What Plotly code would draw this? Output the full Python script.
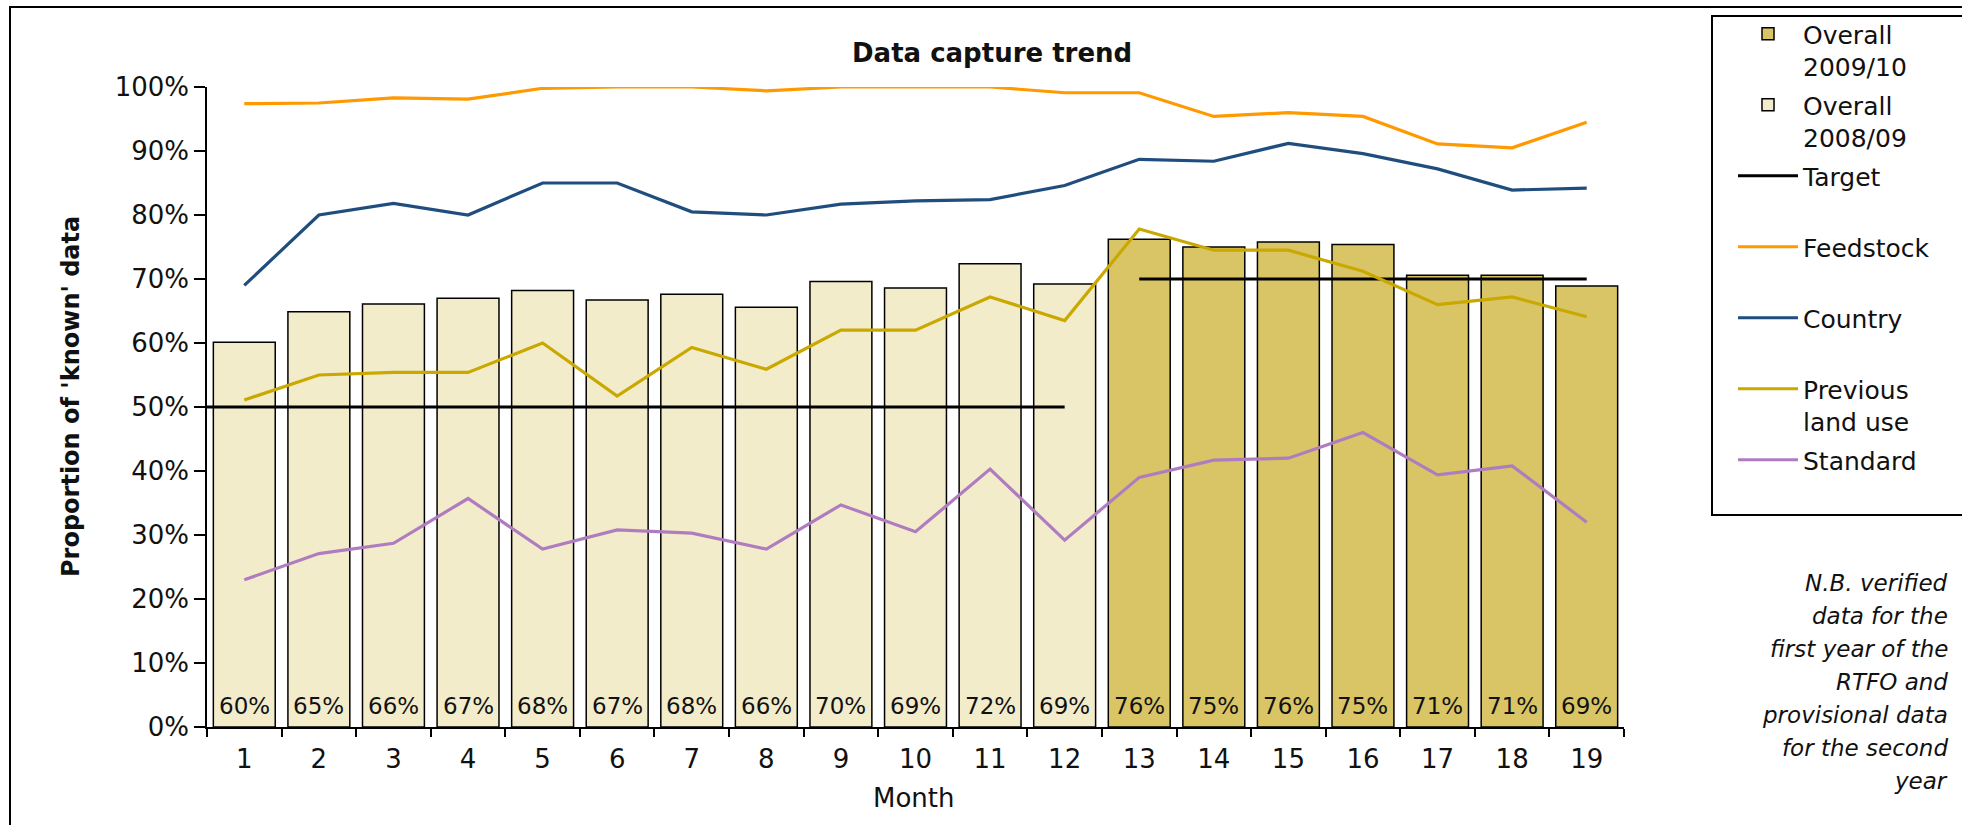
import plotly.graph_objects as go

# ---------------- data ----------------
months = list(range(1, 20))
months_0809 = list(range(1, 13))
months_0910 = list(range(13, 20))

overall_0809 = [0.601, 0.649, 0.661, 0.670, 0.682, 0.667, 0.676, 0.656, 0.696, 0.686, 0.724, 0.692]
overall_0910 = [0.762, 0.750, 0.758, 0.754, 0.706, 0.706, 0.689]

feedstock = [0.974, 0.975, 0.983, 0.981, 0.998, 1.000, 1.000, 0.994, 1.000, 1.000,
             1.000, 0.991, 0.991, 0.954, 0.960, 0.954, 0.911, 0.905, 0.945]
country = [0.690, 0.800, 0.818, 0.800, 0.850, 0.850, 0.805, 0.800, 0.817, 0.822,
           0.824, 0.846, 0.887, 0.884, 0.912, 0.896, 0.872, 0.839, 0.842]
prev_land_use = [0.511, 0.550, 0.554, 0.554, 0.600, 0.517, 0.593, 0.559, 0.620, 0.620,
                 0.672, 0.635, 0.778, 0.745, 0.745, 0.712, 0.660, 0.672, 0.641]
standard = [0.230, 0.271, 0.287, 0.357, 0.278, 0.308, 0.303, 0.278, 0.347, 0.305,
            0.403, 0.292, 0.390, 0.417, 0.420, 0.460, 0.394, 0.408, 0.320]

# target levels and the month spans they cover
target_0809 = 0.50
target_0809_span = [0.5, 12]
target_0910 = 0.70
target_0910_span = [13, 19]

y_ticks = [i / 10 for i in range(11)]

title = "Data capture trend"
y_title = "Proportion of 'known' data"
x_title = "Month"
note_lines = ["N.B. verified", "data for the", "first year of the", "RTFO and",
              "provisional data", "for the second", "year"]

# ---------------- styling ----------------
FONT = "DejaVu Sans"
C_0910 = "#D9C566"
C_0809 = "#F3ECCB"
C_FEED = "#FF9900"
C_COUNTRY = "#1F4E7E"
C_PREV = "#C9A800"
C_STD = "#B07CC0"
TXT = "#111111"
BLANK = "<br>\u00a0"

W, H = 1962, 825
L, R, T, B = 207, 1624, 87, 727


def px(x):
    return (x - L) / (R - L)


def py(y):
    return (B - y) / (B - T)


fig = go.Figure()

fig.add_trace(go.Bar(
    x=months_0910, y=overall_0910, name="Overall<br>2009/10", legendgroup="g1",
    marker=dict(color=C_0910, line=dict(color="black", width=1.5)), width=0.83,
))
fig.add_trace(go.Bar(
    x=months_0809, y=overall_0809, name="Overall<br>2008/09", legendgroup="g2",
    marker=dict(color=C_0809, line=dict(color="black", width=1.5)), width=0.83,
))

tx = target_0809_span + [None] + target_0910_span
ty = [target_0809] * 2 + [None] + [target_0910] * 2
fig.add_trace(go.Scatter(x=tx, y=ty, mode="lines", name="Target" + BLANK, legendgroup="g3",
                         line=dict(color="black", width=3), connectgaps=False))
fig.add_trace(go.Scatter(x=months, y=feedstock, mode="lines", name="Feedstock" + BLANK,
                         legendgroup="g4", line=dict(color=C_FEED, width=3.2)))
fig.add_trace(go.Scatter(x=months, y=country, mode="lines", name="Country" + BLANK,
                         legendgroup="g5", line=dict(color=C_COUNTRY, width=3.2)))
fig.add_trace(go.Scatter(x=months, y=prev_land_use, mode="lines", name="Previous<br>land use",
                         legendgroup="g6", line=dict(color=C_PREV, width=3.2)))
fig.add_trace(go.Scatter(x=months, y=standard, mode="lines", name="Standard" + BLANK,
                         legendgroup="g7", line=dict(color=C_STD, width=3.2)))

annotations = [
    dict(text="<b>" + title + "</b>", xref="paper", yref="paper",
         x=px(992), y=py(53), xanchor="center", yanchor="middle",
         showarrow=False, font=dict(family=FONT, size=26, color=TXT)),
    dict(text="<b>" + y_title + "</b>", xref="paper", yref="paper",
         x=px(71), y=py(397), xanchor="center", yanchor="middle", textangle=-90,
         showarrow=False, font=dict(family=FONT, size=24, color=TXT)),
    dict(text=x_title, xref="paper", yref="paper",
         x=px(914), y=py(798), xanchor="center", yanchor="middle",
         showarrow=False, font=dict(family=FONT, size=26, color=TXT)),
]
for i, line in enumerate(note_lines):
    annotations.append(dict(
        text="<i>" + line + "</i>", xref="paper", yref="paper",
        x=px(1950), y=py(583 + 33 * i), xanchor="right", yanchor="middle",
        showarrow=False, font=dict(family=FONT, size=23, color=TXT)))
# value labels at the base of each bar
for xs, vals in ((months_0809, overall_0809), (months_0910, overall_0910)):
    for m, v in zip(xs, vals):
        annotations.append(dict(
            text=f"{round(v * 100)}%", x=m, y=0, xref="x", yref="y",
            xanchor="center", yanchor="bottom", yshift=6, showarrow=False,
            font=dict(family=FONT, size=23, color=TXT)))

fig.update_layout(
    width=W, height=H,
    margin=dict(l=L, r=W - R, t=T, b=H - B, autoexpand=False),
    paper_bgcolor="white", plot_bgcolor="white",
    barmode="overlay",
    font=dict(family=FONT, size=24, color=TXT),
    showlegend=True,
    legend=dict(
        x=px(1733), y=py(11), xanchor="left", yanchor="top",
        bgcolor="rgba(0,0,0,0)", borderwidth=0,
        font=dict(family=FONT, size=25, color=TXT),
        itemwidth=60, valign="top", traceorder="grouped",
        tracegroupgap=3, maxheight=700,
    ),
    xaxis=dict(
        range=[0.5, 19.5], tickmode="array", tickvals=months,
        ticktext=[str(m) for m in months], ticks="",
        showline=True, linecolor="black", linewidth=1.5,
        showgrid=False, zeroline=False, ticklabelstandoff=8,
        tickfont=dict(family=FONT, size=26, color=TXT),
        minor=dict(tick0=0.5, dtick=1, ticks="outside", ticklen=8,
                   tickcolor="black", tickwidth=1.5, showgrid=False),
    ),
    yaxis=dict(
        range=[0, 1], tickmode="array", tickvals=y_ticks, tickformat=".0%",
        ticks="outside", ticklen=11, tickcolor="black", tickwidth=1.5,
        showline=True, linecolor="black", linewidth=1.5,
        showgrid=False, zeroline=False,
        tickfont=dict(family=FONT, size=26, color=TXT),
    ),
    shapes=[
        dict(type="rect", xref="paper", yref="paper",
             x0=px(10), x1=px(2010), y0=py(7), y1=py(900),
             line=dict(color="black", width=2), fillcolor="rgba(0,0,0,0)", layer="below"),
        dict(type="rect", xref="paper", yref="paper",
             x0=px(1712), x1=px(1990), y0=py(16), y1=py(515),
             line=dict(color="black", width=2), fillcolor="rgba(0,0,0,0)", layer="below"),
    ],
    annotations=annotations,
)

fig.write_html("out.html", config={"displayModeBar": False},
               post_script="document.body.style.margin='0px';")
